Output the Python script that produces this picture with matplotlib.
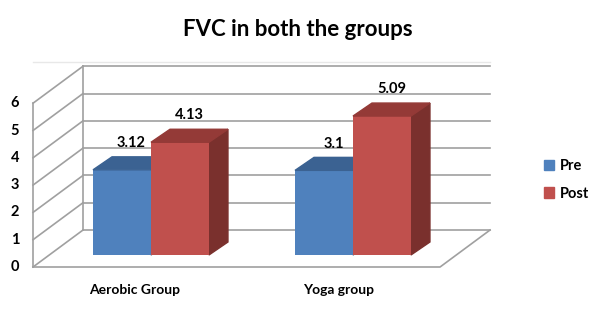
import matplotlib.pyplot as plt
from matplotlib.patches import Polygon, Patch

# data
groups = ['Aerobic Group', 'Yoga group']
series = ['Pre', 'Post']
pre = [3.12, 3.1]
post = [4.13, 5.09]
yticks = [0, 1, 2, 3, 4, 5, 6]

front_cols = ['#4F81BD', '#C0504D']
top_cols = ['#3B6292', '#943A37']
side_cols = ['#2F4E75', '#7A302D']
grid_col = '#A0A0A0'

plt.rcParams['font.family'] = ['Lato', 'DejaVu Sans']

fig = plt.figure(figsize=(6, 3.13), dpi=100)
ax = fig.add_axes([0, 0, 1, 1])
ax.set_xlim(-0.7475, 2.2228)
ax.set_ylim(-2.125, 9.341)
ax.axis('off')

# 3D box geometry (data units)
wdx, wdy = 0.2475, 1.355      # wall depth
fx0, fx1 = -0.584, 1.431      # floor front edge
fy = -0.44                    # front plane value offset
bw = 0.287                    # bar width
bdx, bdy = 0.094, 0.476       # bar depth

# walls / grid
for v in yticks:
    ax.plot([fx0 + wdx, fx1 + wdx], [v + fy + wdy] * 2, color=grid_col, lw=1.2, zorder=1)
    ax.plot([fx0, fx0 + wdx], [v + fy, v + fy + wdy], color=grid_col, lw=1.2, zorder=1)
    ax.text(fx0 - 0.09, v + fy, str(v), ha='center', va='center',
            fontsize=10.5, fontweight='bold')
ax.plot([fx0, fx0], [fy, yticks[-1] + fy], color=grid_col, lw=1.2, zorder=1)
ax.plot([fx0 + wdx, fx0 + wdx], [fy + wdy, yticks[-1] + fy + wdy], color=grid_col, lw=1.2, zorder=1)
ax.plot([fx0, fx1, fx1 + wdx], [fy, fy, fy + wdy], color=grid_col, lw=1.2, zorder=1)
ax.plot([fx0, fx1 + wdx], [yticks[-1] + fy + wdy + 0.17] * 2, color='#E8E8E8', lw=1, zorder=1)

# bars
for si, vals in enumerate([pre, post]):
    xs = [gi - bw + si * bw for gi in range(len(groups))]
    ax.bar(xs, vals, width=bw, align='edge', color=front_cols[si], zorder=3)
    for x0, v in zip(xs, vals):
        ax.add_patch(Polygon([(x0, v), (x0 + bw, v), (x0 + bw + bdx, v + bdy), (x0 + bdx, v + bdy)],
                             closed=True, color=top_cols[si], zorder=3))
        ax.add_patch(Polygon([(x0 + bw, 0), (x0 + bw, v), (x0 + bw + bdx, v + bdy), (x0 + bw + bdx, bdy)],
                             closed=True, color=side_cols[si], zorder=2))
        ax.text(x0 + bw / 2 + bdx / 2, v + 0.98, f'{v:g}', ha='center', va='center',
                fontsize=10.5, fontweight='bold', zorder=4)

# category labels
cw = (fx1 - fx0) / len(groups)
for gi, g in enumerate(groups):
    ax.text(fx0 + (gi + 0.5) * cw, -1.28, g, ha='center', va='center',
            fontsize=10, fontweight='bold')

fig.text(0.497, 0.905, 'FVC in both the groups', ha='center', va='center',
         fontsize=16, fontweight='bold')

handles = [Patch(color=c, label=s) for c, s in zip(front_cols, series)]
fig.legend(handles=handles, loc='center left', bbox_to_anchor=(0.885, 0.425),
           frameon=False, handlelength=0.7, handleheight=0.7,
           handletextpad=0.4, labelspacing=0.9, prop={'weight': 'bold', 'size': 10.5})

fig.savefig('out.png', dpi=100)
